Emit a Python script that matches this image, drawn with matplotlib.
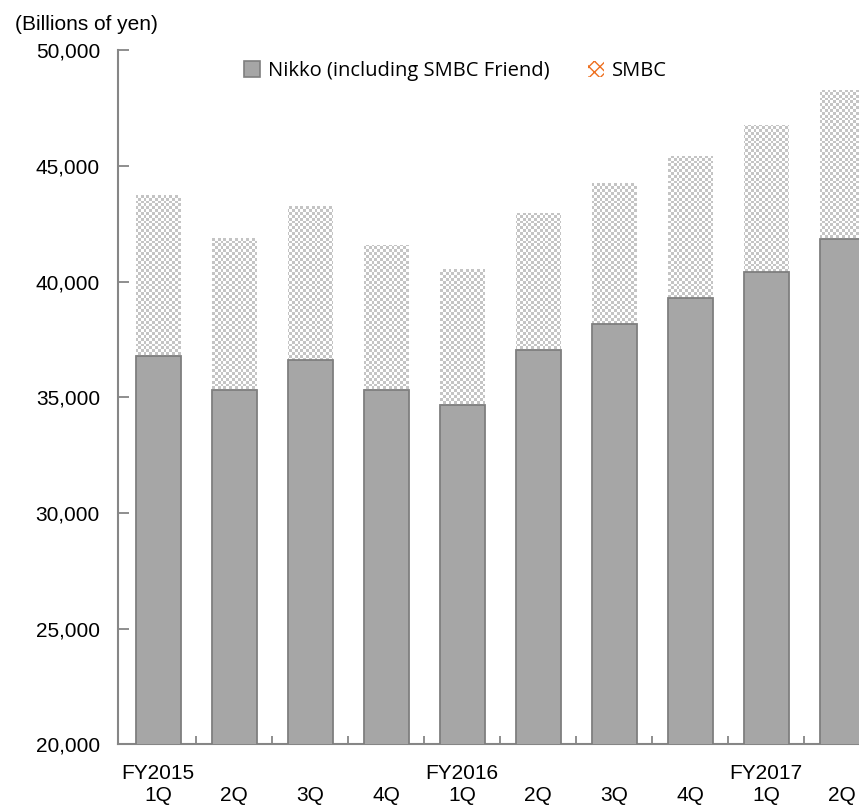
import numpy as np
import matplotlib
matplotlib.use("Agg")
import matplotlib.pyplot as plt
from matplotlib.patches import Patch, PathPatch
from matplotlib.path import Path

plt.rcParams["font.family"] = ["Liberation Sans", "DejaVu Sans"]

# data (billions of yen)
quarters = ["FY2015\n1Q", "\n2Q", "\n3Q", "\n4Q",
            "FY2016\n1Q", "\n2Q", "\n3Q", "\n4Q",
            "FY2017\n1Q", "\n2Q"]
nikko = [36800, 35300, 36600, 35300, 34650, 37050, 38150, 39300, 40400, 41850]
total = [43750, 41900, 43250, 41600, 40550, 42950, 44250, 45450, 46750, 48300]
smbc = [t - n for t, n in zip(total, nikko)]

W, H = 859, 806
fig = plt.figure(figsize=(W / 100, H / 100), dpi=100)
ax = fig.add_axes([118 / W, (H - 744.4) / H, 1 - 118 / W, (744.4 - 50.3) / H])

x = np.arange(len(quarters))
ax.bar(x, nikko, width=0.59, color="#a6a6a6", edgecolor="#7f7f7f", linewidth=1.3, zorder=3)
tops = ax.bar(x, smbc, bottom=nikko, width=0.59, color="none", linewidth=0, zorder=2)

ax.set_xlim(-0.53, 9.22)
ax.set_ylim(20000, 50000)

# checkerboard texture for SMBC bars, clipped to the bar shapes
cell = 2.85
nx = int((W - 118) / cell)
ny = int((744.4 - 50.3) / cell)
board = (np.add.outer(np.arange(ny), np.arange(nx)) % 2).astype(float)
im = ax.imshow(board, cmap=matplotlib.colors.ListedColormap(["#ffffff", "#c4c4c4"]),
               extent=(-0.53, 9.22, 20000, 50000), aspect="auto",
               interpolation="nearest", zorder=2)
paths = [b.get_path().transformed(b.get_patch_transform()) for b in tops]
clip = PathPatch(Path.make_compound_path(*paths), transform=ax.transData,
                 facecolor="none", edgecolor="none")
ax.add_patch(clip)
im.set_clip_path(clip)

# axes styling
for s in ["top", "right"]:
    ax.spines[s].set_visible(False)
for s in ["left", "bottom"]:
    ax.spines[s].set_color("#868686")
    ax.spines[s].set_linewidth(1.5)

ax.set_yticks(range(20000, 50001, 5000))
ax.set_yticklabels([f"{v:,}" for v in range(20000, 50001, 5000)], fontsize=15)
ax.tick_params(axis="y", direction="in", length=8, width=1.3, color="#868686", pad=13)

ax.set_xticks(x)
ax.set_xticklabels(quarters, fontsize=15, linespacing=1.2)
ax.tick_params(axis="x", length=0, pad=14)
ax.set_xticks(x[:-1] + 0.5, minor=True)
ax.tick_params(axis="x", which="minor", direction="in", length=6, width=1.3, color="#868686")

fig.text(15 / W, 1 - 24 / H, "(Billions of yen)", fontsize=15, va="center", ha="left")

handles = [Patch(facecolor="#a6a6a6", edgecolor="#7f7f7f", linewidth=1.2),
           Patch(facecolor="white", edgecolor="#ee7020", hatch="xxx", linewidth=0)]
ax.legend(handles, ["Nikko (including SMBC Friend)", "SMBC"], ncol=2,
          loc="center left", bbox_to_anchor=((236 - 118) / (W - 118), 1 - (71 - 50.3) / (744.4 - 50.3)),
          frameon=False, prop={"family": "Open Sans", "size": 14.5}, handlelength=0.8,
          handleheight=0.8, handletextpad=0.4, columnspacing=1.9, borderaxespad=0)

fig.savefig("out.png", dpi=100)
